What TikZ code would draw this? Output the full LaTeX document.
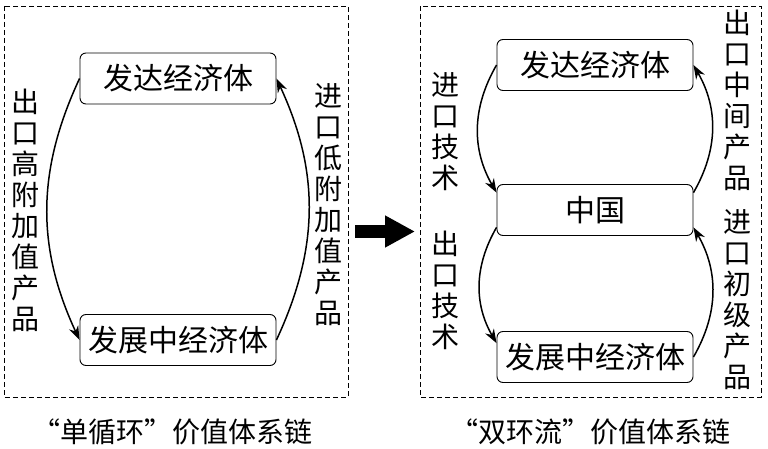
\documentclass[tikz,border=0pt]{standalone}
\usepackage{fontspec}
\newfontfamily\cjk{Noto Sans CJK SC}
\usetikzlibrary{arrows.meta}
\begin{document}
\begin{tikzpicture}[
   x=1pt,y=-1pt,
   econ/.style={draw,rounded corners=6pt,minimum width=196pt,minimum height=51pt,inner sep=0pt,line width=0.9pt,font=\cjk\fontsize{30}{30}\selectfont},
   vlab/.style={align=center,inner sep=0pt,font=\cjk\fontsize{28}{31}\selectfont},
   frame/.style={draw,line width=0.8pt,dash pattern=on 5pt off 3pt},
   flow/.style={line width=1.5pt,-{Stealth[length=14pt,width=10pt]}},
   every node/.style={font=\cjk}
 ]
  \useasboundingbox (0,0) rectangle (768,449);

  % left panel
  \draw[frame] (4,6) rectangle (348,397);
  \node[econ] (dev1) at (178,78.5) {发达经济体};
  \node[econ] (dvg1) at (178,340) {发展中经济体};
  \draw[flow] (dev1.west) to[bend right=25] (dvg1.west);
  \draw[flow] (dvg1.east) to[bend right=25] (dev1.east);
  \node[vlab] (expA) at (25,210) {出\\口\\高\\附\\加\\值\\产\\品};
  \node[vlab] (impA) at (328,205) {进\\口\\低\\附\\加\\值\\产\\品};
  \node[font=\cjk\fontsize{28}{28}\selectfont] (capA) at (172,432) {“单循环”价值体系链};

  % big arrow
  \coordinate (ga) at (355,231.5);
  \coordinate (gb) at (415,231.5);
  \draw[line width=13pt,-{Triangle[length=30pt,width=30pt]}] (ga) -- (gb);

  % right panel
  \draw[frame] (420,6) rectangle (761,397);
  \node[econ] (dev2) at (595,65) {发达经济体};
  \node[econ] (cn) at (595,210) {中国};
  \node[econ] (dvg2) at (595,357) {发展中经济体};
  \draw[flow] (dev2.west) to[bend right=30] (cn.170);
  \draw[flow] (cn.190) to[bend right=30] (dvg2.172);
  \draw[flow] (cn.10) to[bend right=30] (dev2.east);
  \draw[flow] (dvg2.east) to[bend right=30] (cn.350);
  \node[vlab] (impT) at (445,132) {进\\口\\技\\术};
  \node[vlab] (expT) at (445,290) {出\\口\\技\\术};
  \node[vlab] (expM) at (737,100) {出\\口\\中\\间\\产\\品};
  \node[vlab] (impP) at (737,300) {进\\口\\初\\级\\产\\品};
  \node[font=\cjk\fontsize{28}{28}\selectfont] (capB) at (590,432) {“双环流”价值体系链};
\end{tikzpicture}
\end{document}
